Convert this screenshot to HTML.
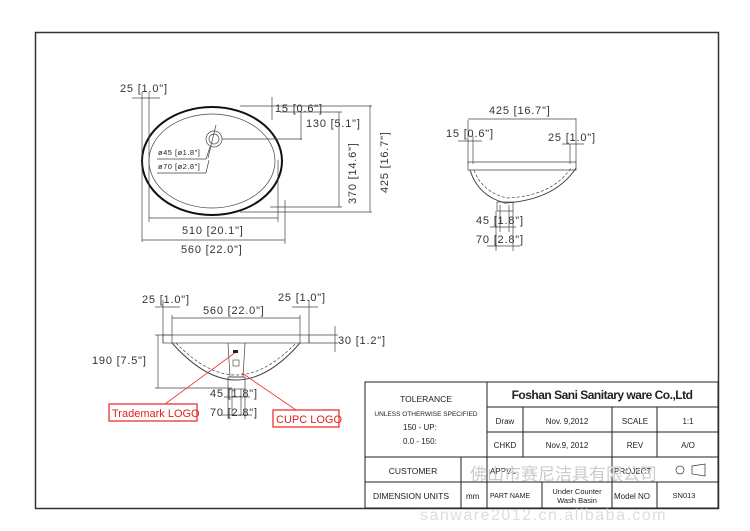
<!DOCTYPE html>
<html><head><meta charset="utf-8"><style>
body{margin:0;background:#fff}
svg{display:block}
text{font-family:"Liberation Sans","Noto Sans CJK SC",sans-serif;fill:#222}
.m{font-family:"Liberation Sans",sans-serif;font-size:11px;letter-spacing:0.8px;fill:#333}
</style></head><body>
<svg width="750" height="531" viewBox="0 0 750 531" xmlns="http://www.w3.org/2000/svg">
<rect x="35.5" y="32.5" width="683" height="476" fill="none" stroke="#333" stroke-width="1.5"/>
<g stroke="#444" stroke-width="0.7" fill="none">
<ellipse cx="212" cy="161" rx="70" ry="54" stroke="#111" stroke-width="2"/>
<ellipse cx="212" cy="161" rx="63" ry="47"/>
<circle cx="214" cy="139" r="8"/><circle cx="214" cy="139" r="5"/>
<line x1="142" y1="92" x2="142" y2="242"/><line x1="149" y1="92" x2="149" y2="222"/>
<line x1="142" y1="98" x2="160" y2="98"/><line x1="132" y1="98" x2="142" y2="98"/>
<line x1="149" y1="218" x2="278" y2="218"/><line x1="278" y1="160" x2="278" y2="222"/>
<line x1="142" y1="240" x2="285" y2="240"/><line x1="285" y1="200" x2="285" y2="244"/>
<line x1="222" y1="139" x2="302" y2="139"/><line x1="301" y1="112" x2="301" y2="140"/>
<line x1="272" y1="97" x2="272" y2="120"/>
<line x1="240" y1="106" x2="372" y2="106"/><line x1="240" y1="212" x2="372" y2="212"/>
<line x1="280" y1="112" x2="342" y2="112"/><line x1="270" y1="207" x2="342" y2="207"/>
<line x1="339" y1="112" x2="339" y2="207"/><line x1="370" y1="105" x2="370" y2="212"/>
<line x1="216" y1="125" x2="208" y2="158"/>
<polyline points="157,159 206,159 210,147"/><polyline points="157,173 206,173 209,160"/>
<line x1="468" y1="120" x2="468" y2="164"/><line x1="473" y1="136" x2="473" y2="164"/>
<line x1="570" y1="144" x2="570" y2="164"/><line x1="576" y1="118" x2="576" y2="164"/>
<line x1="468" y1="119" x2="576" y2="119"/>
<line x1="458" y1="141" x2="482" y2="141"/><line x1="562" y1="144" x2="584" y2="144"/>
<path d="M468 162 L576 162 L576 170 L468 170 Z"/>
<path d="M470 170 Q478 196 505 203 Q555 200 576 168" stroke-width="1"/>
<path d="M474 170 Q482 192 507 198 Q552 196 571 168" stroke-dasharray="3,2"/>
<rect x="497" y="202" width="16" height="9"/>
<line x1="500" y1="205" x2="500" y2="232"/><line x1="509" y1="205" x2="509" y2="232"/>
<line x1="496" y1="211" x2="496" y2="251"/><line x1="513" y1="211" x2="513" y2="251"/>
<line x1="490" y1="227" x2="516" y2="227"/><line x1="487" y1="246" x2="520" y2="246"/>
<rect x="163" y="335" width="146" height="8"/>
<line x1="163" y1="300" x2="163" y2="343"/><line x1="172" y1="315" x2="172" y2="343"/>
<line x1="300" y1="315" x2="300" y2="343"/><line x1="309" y1="300" x2="309" y2="343"/>
<line x1="155" y1="307" x2="180" y2="307"/><line x1="292" y1="307" x2="318" y2="307"/>
<line x1="172" y1="318" x2="300" y2="318"/>
<path d="M172 343 Q205 380 236 380 Q268 380 300 343" stroke-width="1"/>
<path d="M176 343 Q207 375 236 375 Q265 375 296 343" stroke-dasharray="3,2"/>
<path d="M228 343 L230 377 L243 377 L245 343"/>
<rect x="228" y="377" width="17" height="12"/>
<line x1="155" y1="335" x2="172" y2="335"/><line x1="158" y1="335" x2="158" y2="388"/>
<line x1="155" y1="388" x2="232" y2="388"/>
<line x1="309" y1="335" x2="338" y2="335"/><line x1="309" y1="343" x2="338" y2="343"/>
<line x1="335" y1="326" x2="335" y2="352"/>
<line x1="232" y1="389" x2="232" y2="415"/><line x1="241" y1="389" x2="241" y2="415"/>
<line x1="228" y1="389" x2="228" y2="419"/><line x1="245" y1="389" x2="245" y2="419"/>
<line x1="224" y1="397" x2="250" y2="397"/><line x1="222" y1="415" x2="252" y2="415"/>
</g>
<g stroke="#e33" stroke-width="0.8" fill="none">
<line x1="236" y1="352" x2="165" y2="404"/><line x1="242" y1="373" x2="296" y2="410"/>
<rect x="109" y="404" width="88" height="17" stroke-width="1.3"/>
<rect x="273" y="410" width="66" height="17" stroke-width="1.3"/>
</g>
<rect x="233" y="350" width="5" height="3" fill="#222"/>
<rect x="233" y="360" width="6" height="6" fill="none" stroke="#333" stroke-width="0.6"/>
<text x="120" y="92" class="m">25 [1.0"]</text>
<text x="275" y="112" class="m">15 [0.6"]</text>
<text x="306" y="127" class="m">130 [5.1"]</text>
<text x="182" y="234" class="m">510 [20.1"]</text>
<text x="181" y="253" class="m">560 [22.0"]</text>
<text class="m" transform="translate(356,204) rotate(-90)">370 [14.6"]</text>
<text class="m" transform="translate(388,193) rotate(-90)">425 [16.7"]</text>
<text x="158" y="155" style="font-size:7.5px;letter-spacing:0.5px">ø45 [ø1.8"]</text>
<text x="158" y="169" style="font-size:7.5px;letter-spacing:0.5px">ø70 [ø2.8"]</text>
<text x="489" y="114" class="m">425 [16.7"]</text>
<text x="446" y="137" class="m">15 [0.6"]</text>
<text x="548" y="141" class="m">25 [1.0"]</text>
<text x="476" y="224" class="m">45 [1.8"]</text>
<text x="476" y="243" class="m">70 [2.8"]</text>
<text x="142" y="303" class="m">25 [1.0"]</text>
<text x="278" y="301" class="m">25 [1.0"]</text>
<text x="203" y="314" class="m">560 [22.0"]</text>
<text x="92" y="364" class="m">190 [7.5"]</text>
<text x="338" y="344" class="m">30 [1.2"]</text>
<text x="210" y="397" class="m">45 [1.8"]</text>
<text x="210" y="416" class="m">70 [2.8"]</text>
<text x="112" y="417" style="font-size:11px;fill:#d22">Trademark LOGO</text>
<text x="276" y="423" style="font-size:11px;fill:#d22">CUPC LOGO</text>
<g stroke="#222" stroke-width="1" fill="none">
<rect x="365" y="382" width="353" height="126"/>
<line x1="487" y1="382" x2="487" y2="508"/>
<line x1="487" y1="407" x2="718" y2="407"/>
<line x1="487" y1="432" x2="718" y2="432"/>
<line x1="365" y1="457" x2="718" y2="457"/>
<line x1="365" y1="482" x2="718" y2="482"/>
<line x1="461" y1="457" x2="461" y2="508"/>
<line x1="523" y1="407" x2="523" y2="457"/>
<line x1="612" y1="407" x2="612" y2="508"/>
<line x1="657" y1="407" x2="657" y2="457"/>
<line x1="542" y1="482" x2="542" y2="508"/>
<line x1="657" y1="482" x2="657" y2="508"/>
</g>
<text x="426" y="402" text-anchor="middle" style="font-size:8.5px">TOLERANCE</text>
<text x="426" y="416" text-anchor="middle" style="font-size:6.5px">UNLESS OTHERWISE SPECIFIED</text>
<text x="403" y="430" style="font-size:8px">150 - UP:</text>
<text x="403" y="444" style="font-size:8px">0.0 - 150:</text>
<text x="602" y="399" text-anchor="middle" style="font-size:12px;font-weight:bold;letter-spacing:-0.5px">Foshan Sani Sanitary ware Co.,Ltd</text>
<text x="505" y="424" text-anchor="middle" style="font-size:8px">Draw</text>
<text x="567" y="424" text-anchor="middle" style="font-size:8px">Nov. 9,2012</text>
<text x="635" y="424" text-anchor="middle" style="font-size:8px">SCALE</text>
<text x="688" y="424" text-anchor="middle" style="font-size:8px">1:1</text>
<text x="505" y="448" text-anchor="middle" style="font-size:8px">CHKD</text>
<text x="567" y="448" text-anchor="middle" style="font-size:8px">Nov.9, 2012</text>
<text x="635" y="448" text-anchor="middle" style="font-size:8px">REV</text>
<text x="688" y="448" text-anchor="middle" style="font-size:8px">A/O</text>
<text x="413" y="474" text-anchor="middle" style="font-size:8.5px">CUSTOMER</text>
<text x="490" y="474" style="font-size:8px">APPVL</text>
<text x="614" y="474" style="font-size:8px">PROJECT</text>
<circle cx="680" cy="470" r="4" fill="none" stroke="#333" stroke-width="0.7"/>
<path d="M692 466 L705 464 L705 476 L692 474 Z" fill="none" stroke="#333" stroke-width="0.7"/>
<text x="411" y="499" text-anchor="middle" style="font-size:8.5px">DIMENSION UNITS</text>
<text x="466" y="499" style="font-size:8px">mm</text>
<text x="490" y="498" style="font-size:7px">PART NAME</text>
<text x="577" y="494" text-anchor="middle" style="font-size:7.5px">Under Counter</text>
<text x="577" y="503" text-anchor="middle" style="font-size:7.5px">Wash Basin</text>
<text x="614" y="499" style="font-size:8px">Model NO</text>
<text x="684" y="498" text-anchor="middle" style="font-size:7.5px">SN013</text>
<text x="470" y="480" style="font-size:17px;fill:#ccc">佛山市赛尼洁具有限公司</text>
<text x="420" y="520" style="font-size:16px;fill:#ddd;letter-spacing:1.5px">sanware2012.cn.alibaba.com</text>
</svg>
</body></html>
